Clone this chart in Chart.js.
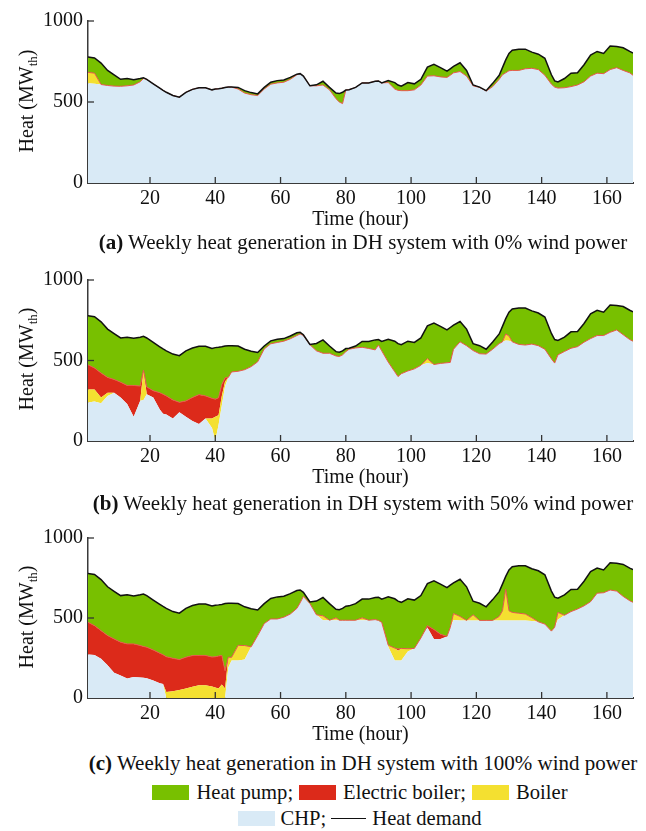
<!DOCTYPE html>
<html><head><meta charset="utf-8">
<script src="https://cdn.jsdelivr.net/npm/chart.js@4.4.1/dist/chart.umd.min.js"></script>
<style>
html,body{margin:0;padding:0;background:#fff}
body{width:646px;height:831px;position:relative;overflow:hidden;font-family:"Liberation Serif","Times New Roman",serif;color:#111}
canvas{position:absolute;left:0}
.ytitle{position:absolute;left:26px;transform:translate(-50%,-50%) rotate(-90deg);font-size:20px;white-space:nowrap;line-height:24px}
.ytitle sub{font-size:13px;vertical-align:-4px;line-height:0}
.cap{position:absolute;left:0;width:726px;text-align:center;font-size:21px;line-height:24px;white-space:nowrap}
.leg{position:absolute;left:0;width:720px;display:flex;justify-content:center;align-items:center;font-size:20.6px;line-height:24px;white-space:nowrap}
.sw{display:inline-block;width:37px;height:15px;margin-right:7px}
.ln{display:inline-block;width:35px;height:0;border-top:1.5px solid #111;margin:0 6px 0 5px}
.gap{display:inline-block;width:6px}
</style>
</head><body>
<canvas id="ca" width="646" height="228" style="top:4px"></canvas>
<canvas id="cb" width="646" height="227" style="top:263px"></canvas>
<canvas id="cc" width="646" height="226" style="top:521px"></canvas>

<div class="ytitle" style="top:100.5px">Heat (MW<sub>th</sub>)</div>
<div class="ytitle" style="top:359px">Heat (MW<sub>th</sub>)</div>
<div class="ytitle" style="top:616.5px">Heat (MW<sub>th</sub>)</div>

<div class="cap" style="top:230px"><b>(a)</b> Weekly heat generation in DH system with 0% wind power</div>
<div class="cap" style="top:491px"><b>(b)</b> Weekly heat generation in DH system with 50% wind power</div>
<div class="cap" style="top:751px"><b>(c)</b> Weekly heat generation in DH system with 100% wind power</div>

<div class="leg" style="top:780px">
  <span class="sw" style="background:#78c000"></span>Heat pump;<span class="gap"></span>
  <span class="sw" style="background:#dc2a1a"></span>Electric boiler;<span class="gap"></span>
  <span class="sw" style="background:#f4e030"></span>Boiler
</div>
<div class="leg" style="top:806px">
  <span class="sw" style="background:#d9eaf6;margin-right:5px"></span>CHP;<span class="ln"></span>Heat demand
</div>

<script>
// ---------- data (MW_th) ----------
const hours = [1,3,5,7,9,11,13,15,17,
  18,19,21,23,24,25,
  27,29,31,33,35,37,39,
  40,41,42,43,44,45,
  47,49,51,53,55,57,59,61,63,65,
  66,67,69,71,73,75,77,
  78,79,80,81,83,85,87,89,
  90,91,93,95,96,97,99,
  101,103,105,107,109,111,
  112,113,115,117,119,121,123,125,127,
  128,129,130,131,133,135,137,139,141,143,
  144,145,147,149,151,153,155,157,159,161,
  163,165,167,168];

const xTicks = [20,40,60,80,100,120,140,160];
const yTicks = [0,500,1000];

const demand = [778,772,740,695,667,640,645,638,645,
  650,640,612,585,572,560,
  540,530,560,578,588,588,575,
  580,582,585,590,592,592,
  590,570,558,550,590,622,632,636,652,672,
  675,660,600,606,628,590,555,
  552,560,574,576,590,618,618,628,
  630,618,632,620,605,598,620,
  612,640,715,732,712,690,
  705,720,742,695,605,592,570,615,665,
  712,760,800,820,826,826,808,795,770,668,
  630,624,645,678,680,730,790,812,800,845,
  842,835,812,802];

// (a) 0% wind
const chpA = [615,612,608,602,598,597,600,605,625,
  645,640,612,585,572,560,
  540,530,560,578,588,588,575,
  580,582,585,590,592,592,
  580,555,545,540,580,610,618,622,640,668,
  675,660,600,600,605,575,520,
  500,490,574,576,590,618,618,628,
  630,618,620,580,572,570,570,
  575,605,660,662,655,652,
  665,680,688,660,600,590,568,595,640,
  668,680,693,695,695,705,708,700,665,610,
  592,586,588,595,605,625,660,678,675,700,
  712,695,680,665];
const boilerA = [68,66,0,0,0,0,0,0,0,
  0,0,0,0,0,0,
  0,0,0,0,0,0,0,
  0,0,0,0,0,0,
  0,0,0,0,0,0,0,0,0,0,
  0,0,0,0,0,0,0,
  0,0,0,0,0,0,0,0,
  0,0,0,0,0,0,0,
  0,0,0,0,0,0,
  0,0,0,0,0,0,0,0,0,
  0,0,0,0,0,0,0,0,0,0,
  0,0,0,0,0,0,0,0,0,0,
  0,0,0,0];
const ebA = [0,0,0,0,0,0,0,0,0,
  0,0,0,0,0,0,
  0,0,0,0,0,0,0,
  0,0,0,0,0,0,
  0,0,0,0,0,0,0,0,0,0,
  0,0,0,0,0,0,0,
  0,0,0,0,0,0,0,0,
  0,0,0,0,0,0,0,
  0,0,0,0,0,0,
  0,0,0,0,0,0,0,0,0,
  0,0,0,0,0,0,0,0,0,0,
  0,0,0,0,0,0,0,0,0,0,
  0,0,0,0];

// (b) 50% wind
const chpB = [239,245,235,280,300,270,230,150,250,
  255,290,270,195,170,165,
  140,178,150,125,106,140,80,
  0,100,220,340,395,429,
  433,443,462,492,572,604,612,620,635,655,
  665,655,598,560,545,545,528,
  525,535,555,570,578,582,575,566,
  596,560,490,430,400,418,435,
  448,470,484,475,482,486,
  488,570,616,592,562,542,540,570,605,
  616,625,622,616,600,596,602,592,570,510,
  484,535,556,576,586,614,636,655,655,675,
  690,660,630,620];
const boilerB = [81,75,35,20,0,0,0,0,0,
  185,0,0,0,0,0,
  0,0,0,0,0,0,60,
  150,60,60,30,0,0,
  0,0,0,0,0,0,0,0,0,0,
  0,0,0,0,0,0,0,
  0,0,0,0,0,0,0,0,
  0,0,0,0,0,0,0,
  0,0,28,0,0,0,
  0,0,0,0,0,0,0,0,0,
  0,40,30,0,0,0,0,0,0,0,
  0,0,0,0,0,0,0,0,0,0,
  0,0,0,0];
const ebB = [153,133,152,95,82,95,115,195,91,
  0,46,42,105,120,115,
  115,62,99,145,182,140,125,
  110,108,71,22,0,0,
  0,0,0,0,0,0,0,0,0,0,
  0,0,0,0,0,0,0,
  0,0,0,0,0,0,0,0,
  0,0,0,0,0,0,0,
  0,0,0,0,0,0,
  0,0,0,0,0,0,0,0,0,
  0,0,0,0,0,0,0,0,0,0,
  0,0,0,0,0,0,0,0,0,0,
  0,0,0,0];

// (c) 100% wind
const chpC = [272,268,245,205,158,141,122,131,128,
  127,124,110,92,88,0,
  0,0,0,0,0,0,0,
  0,0,0,0,190,234,
  234,240,320,390,465,494,494,505,525,560,
  595,635,590,520,486,486,486,
  486,486,486,486,486,486,486,490,
  485,473,320,234,234,234,290,
  310,375,440,368,369,385,
  440,488,485,485,485,485,485,485,485,
  485,485,485,485,485,485,482,476,462,418,
  442,490,517,540,556,576,602,655,658,675,
  668,635,608,598];
const boilerC = [0,0,0,0,0,0,0,0,0,
  0,0,0,0,0,37,
  42,50,60,70,79,79,72,
  65,60,85,60,65,20,
  95,88,0,0,0,0,0,0,0,0,
  0,0,0,0,28,0,15,
  0,0,0,0,0,15,0,0,
  0,0,10,78,62,76,18,
  0,0,0,0,0,0,
  0,40,25,0,35,0,0,0,25,
  60,195,60,50,45,40,20,0,0,0,
  0,45,0,0,0,0,0,0,0,0,
  0,0,0,0];
const ebC = [201,184,176,185,211,208,216,207,200,
  195,193,190,188,182,221,
  206,190,195,195,187,187,184,
  193,202,181,110,0,0,
  0,0,0,0,0,0,0,0,0,0,
  0,0,0,0,0,0,0,
  0,0,0,0,0,0,0,0,
  0,0,0,0,10,0,0,
  0,0,12,60,30,0,
  0,0,0,0,0,0,0,0,0,
  0,0,0,0,0,0,0,0,0,0,
  0,0,0,0,0,0,0,0,0,0,
  0,0,0,0];

// ---------- styling ----------
const COL = {chp:'#d9eaf6', boiler:'#f4e030', eb:'#dc2a1a', hp:'#78c000', ebLine:'#e8574c', dem:'#111'};
const FONT = '"Liberation Serif","Times New Roman",serif';

const inwardTicks = {
  id:'inwardTicks',
  afterDraw(chart){
    const {ctx, chartArea:a, scales:{x, y}} = chart;
    ctx.save();
    ctx.strokeStyle = '#333'; ctx.lineWidth = 1.3;
    x.ticks.forEach(t => { const px = x.getPixelForValue(t.value);
      ctx.beginPath(); ctx.moveTo(px, a.bottom); ctx.lineTo(px, a.bottom - 6); ctx.stroke(); });
    y.ticks.forEach(t => { if (t.value === 0) return; const py = y.getPixelForValue(t.value);
      ctx.beginPath(); ctx.moveTo(a.left, py); ctx.lineTo(a.left + 6, py); ctx.stroke(); });
    ctx.restore();
  }
};

function pts(arr){ return arr.map((v,i) => ({x: hours[i], y: v})); }

function makeChart(id, chp, boiler, eb){
  new Chart(document.getElementById(id), {
    type:'line',
    data:{ datasets:[
      {label:'CHP', data:pts(chp), stack:'gen', fill:'origin', backgroundColor:COL.chp, borderWidth:0, pointRadius:0, tension:0},
      {label:'Boiler', data:pts(boiler), stack:'gen', fill:'-1', backgroundColor:COL.boiler, borderWidth:0, pointRadius:0, tension:0},
      {label:'Electric boiler', data:pts(eb), stack:'gen', fill:'-1', backgroundColor:COL.eb, borderColor:COL.ebLine, borderWidth:1, pointRadius:0, tension:0},
      {label:'Heat demand', data:pts(demand), stack:'dem', fill:'-1', backgroundColor:COL.hp, borderColor:COL.dem, borderWidth:1.5, pointRadius:0, tension:0, order:-1}
    ]},
    options:{
      responsive:false, animation:false, devicePixelRatio:1,
      layout:{padding:{left:0, right:13, top:14, bottom:0}},
      plugins:{legend:{display:false}, tooltip:{enabled:false}, filler:{drawTime:'beforeDatasetsDraw'}},
      scales:{
        x:{type:'linear', min:1, max:168,
          grid:{display:false, drawTicks:false},
          border:{display:true, color:'#3a3a3a', width:2},
          afterBuildTicks: s => { s.ticks = xTicks.map(v => ({value:v})); },
          afterFit: s => { s.height = 49; },
          ticks:{font:{family:FONT, size:20}, color:'#111', padding:4, maxRotation:0, autoSkip:false, callback: v => String(v)},
          title:{display:true, text:'Time (hour)', font:{family:FONT, size:20}, color:'#111', padding:{top:0, bottom:0}}
        },
        y:{stacked:true, min:0, max:1000,
          grid:{display:false, drawTicks:false},
          border:{display:true, color:'#3a3a3a', width:1.5},
          afterBuildTicks: s => { s.ticks = yTicks.map(v => ({value:v})); },
          afterFit: s => { s.width = 88; },
          ticks:{font:{family:FONT, size:20}, color:'#111', padding:5, callback: v => String(v)}
        }
      }
    },
    plugins:[inwardTicks]
  });
}

makeChart('ca', chpA, boilerA, ebA);
makeChart('cb', chpB, boilerB, ebB);
makeChart('cc', chpC, boilerC, ebC);
</script>
</body></html>
